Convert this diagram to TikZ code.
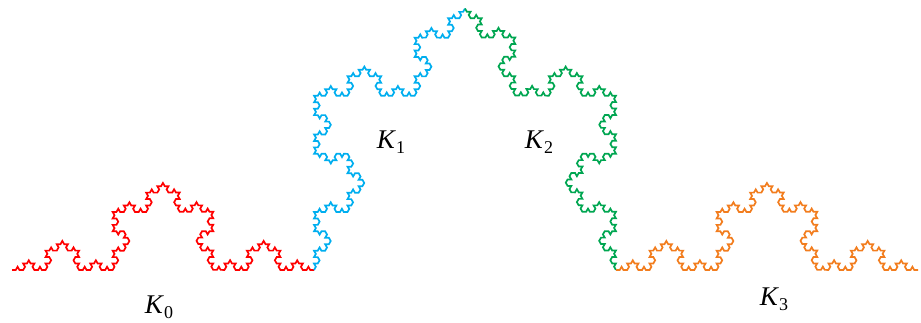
\documentclass[tikz,border=0pt]{standalone}
\usepackage{fontspec}
\setmainfont{Liberation Serif}
\usetikzlibrary{decorations.fractals}
\definecolor{kred}{RGB}{255,0,0}
\definecolor{kblue}{RGB}{0,174,239}
\definecolor{kgreen}{RGB}{0,166,81}
\definecolor{korange}{RGB}{242,125,30}
\newcommand{\kpart}[1]{\textit{K}\raisebox{-5pt}{\fontsize{18}{18}\selectfont #1}}
\begin{document}
\begin{tikzpicture}[x=1pt, y=1pt,
		kochpart/.style={line width=1.7pt, decoration=Koch snowflake},
		klabel/.style={anchor=base, font=\fontsize{27}{32}\selectfont}]
	\useasboundingbox (0,0) rectangle (921,322);
	\coordinate (p0) at (12,52);
	\coordinate (p1) at (314,52);
	\coordinate (p2) at (465,313.5);
	\coordinate (p3) at (616,52);
	\coordinate (p4) at (918,52);
	\foreach \s/\e/\c in {p0/p1/kred, p1/p2/kblue, p2/p3/kgreen, p3/p4/korange} {
		\draw[kochpart, \c] decorate{decorate{decorate{decorate{(\s) -- (\e)}}}};
	}
	\node[klabel] (k0) at (159,9) {\kpart{0}};
	\node[klabel] (k1) at (391,174) {\kpart{1}};
	\node[klabel] (k2) at (539,174) {\kpart{2}};
	\node[klabel] (k3) at (774,17) {\kpart{3}};
\end{tikzpicture}
\end{document}
